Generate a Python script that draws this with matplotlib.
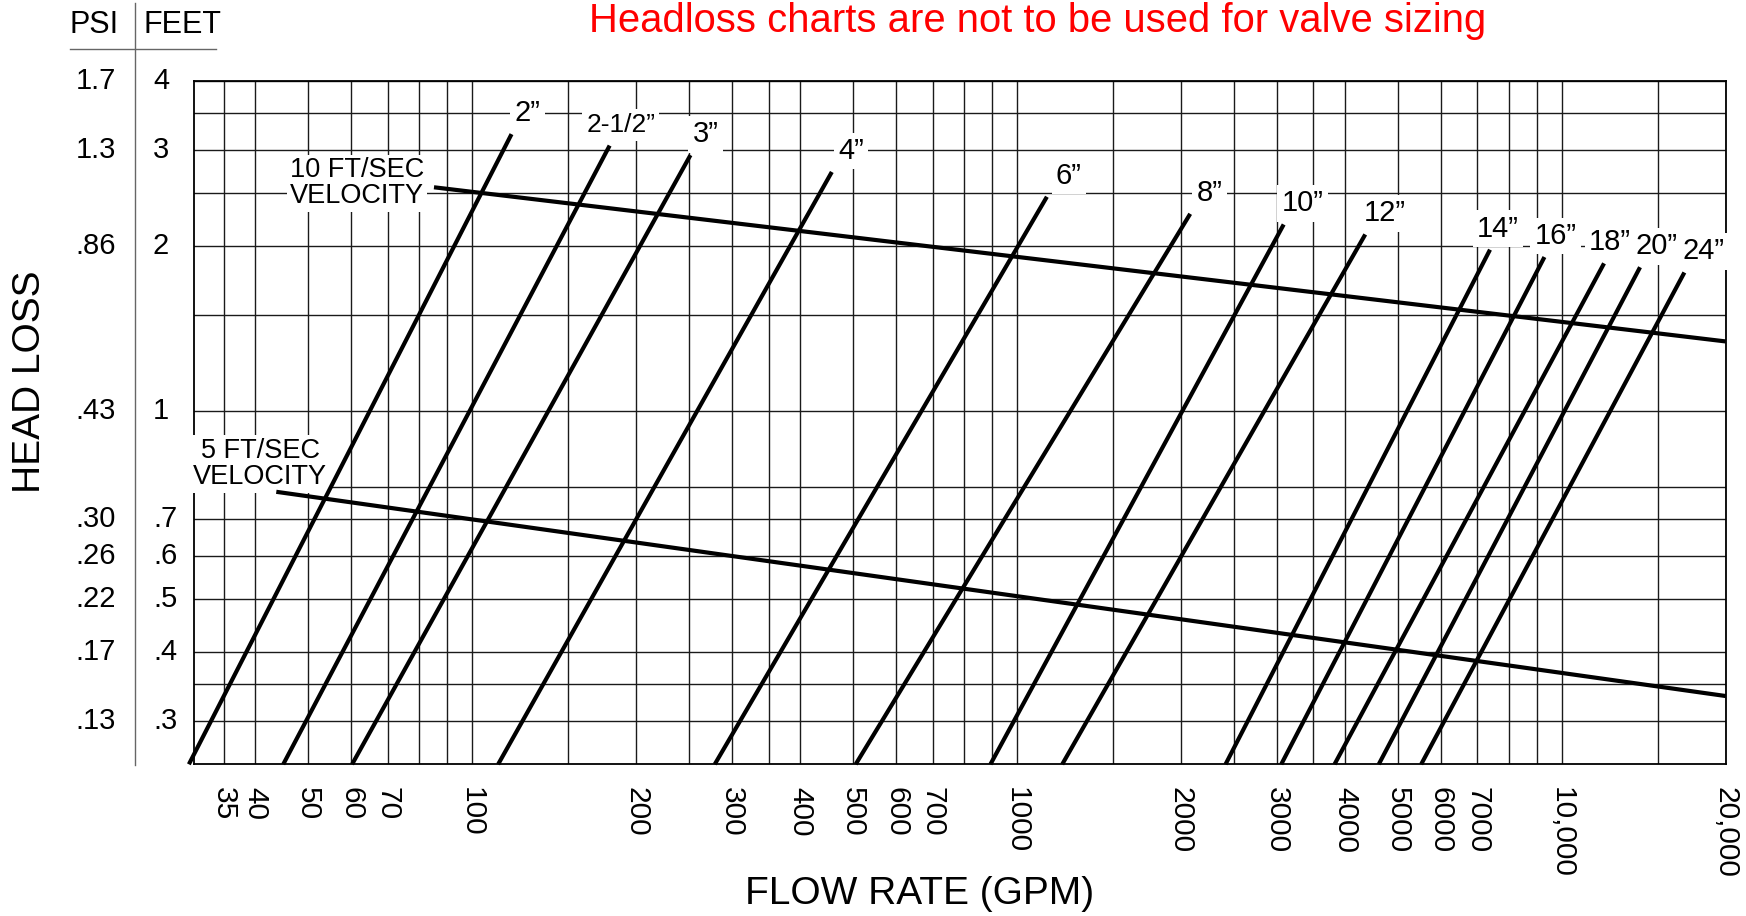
import numpy as np
import matplotlib
matplotlib.use("Agg")
import matplotlib.pyplot as plt
from matplotlib import transforms
from matplotlib.lines import Line2D
from matplotlib.ticker import NullFormatter

plt.rcParams['font.family'] = ['Liberation Sans', 'DejaVu Sans']

# pipe lines: flow (gpm) and head loss (ft) at both ends
pipe_sizes = ['2”', '2-1/2”', '3”', '4”', '6”', '8”', '10”', '12”',
              '14”', '16”', '18”', '20”', '24”']
q_low = [30.2, 45.0, 60.2, 111.6, 278.8, 505.8, 894, 1211,
         2415, 3056, 3828, 4615, 5521]
h_low = [0.25, 0.25, 0.25, 0.25, 0.25, 0.25, 0.25, 0.25,
         0.25, 0.25, 0.25, 0.25, 0.25]
q_high = [118.1, 178.8, 251.6, 457.3, 1135, 2080, 3088, 4359,
          7386, 9296, 11960, 13925, 16795]
h_high = [3.20, 3.05, 2.93, 2.73, 2.46, 2.29, 2.19, 2.10,
          1.97, 1.91, 1.86, 1.83, 1.79]

# velocity lines
vel_labels = ['10 FT/SEC\nVELOCITY', '5 FT/SEC\nVELOCITY']
vel_q = [[85.1, 20000], [43.7, 20000]]
vel_h = [[2.56, 1.34], [0.785, 0.333]]

# axis ticks
x_ticks = [35, 40, 50, 60, 70, 100, 200, 300, 400, 500, 600, 700, 1000,
           2000, 3000, 4000, 5000, 6000, 7000, 10000, 20000]
x_tick_labels = ['35', '40', '50', '60', '70', '100', '200', '300', '400',
                 '500', '600', '700', '1000', '2000', '3000', '4000', '5000',
                 '6000', '7000', '10,000', '20,000']
x_minor = [80, 90, 150, 250, 350, 800, 900, 1500, 2500, 3500, 8000, 9000, 15000]
feet_ticks = [4, 3, 2, 1, 0.7, 0.6, 0.5, 0.4, 0.3]
feet_labels = ['4', '3', '2', '1', '.7', '.6', '.5', '.4', '.3']
psi_labels = ['1.7', '1.3', '.86', '.43', '.30', '.26', '.22', '.17', '.13']
y_minor = [3.5, 2.5, 1.5, 0.8, 0.35]

W, H = 1746, 916


def fx(px):
    return px / W


def fy(py):
    return 1 - py / H


# the chart's log axis has a small break between 1 ft and 0.8 ft
GAP = 23 / 548
LO = np.log10(0.8)
K = (LO - GAP) / LO


def fwd(h):
    t = np.log10(np.clip(np.asarray(h, dtype=float), 1e-9, None))
    return np.where(t >= 0, t, np.where(t <= LO, t - GAP, t * K))


def inv(u):
    u = np.asarray(u, dtype=float)
    return np.where(u >= 0, 10.0 ** u,
                    np.where(u <= LO - GAP, 10.0 ** (u + GAP), 10.0 ** (u / K)))


fig = plt.figure(figsize=(W / 100, H / 100), dpi=100)
ax = fig.add_axes([fx(194.3), fy(764.3), fx(1725.7) - fx(194.3), fy(81) - fy(764.3)])
ax.set_xscale('log')
ax.set_yscale('function', functions=(fwd, inv))
ax.set_xlim(30.9, 20000)
ax.set_ylim(0.25, 4)

ax.set_xticks(x_ticks, labels=x_tick_labels)
ax.set_xticks(x_minor, minor=True)
ax.xaxis.set_minor_formatter(NullFormatter())
ax.set_yticks(feet_ticks)
ax.set_yticks(y_minor, minor=True)
ax.tick_params(which='both', length=0)
ax.tick_params(axis='y', which='both', labelleft=False)
ax.tick_params(axis='x', which='major', pad=16, labelsize=21.5)
for lbl in ax.get_xticklabels():
    lbl.set_rotation(-90)
    lbl.set_ha('center')
    lbl.set_va('top')

ax.set_axisbelow(True)
ax.grid(True, which='both', color='#1a1a1a', linewidth=1.0)
for s in ax.spines.values():
    s.set_linewidth(1.3)
    s.set_color('black')

# pipe size lines with labels
label_dx = [16, 11, 15, 19, 22, 19, 19, 19, 8, 11, 6, 16, 19]
for i, name in enumerate(pipe_sizes):
    ax.plot([q_low[i], q_high[i]], [h_low[i], h_high[i]], color='black',
            linewidth=3.0, solid_capstyle='butt', zorder=4, clip_on=False)
    ax.annotate(name, (q_high[i], h_high[i]), xytext=(label_dx[i], 21),
                textcoords='offset pixels', ha='center', va='center',
                fontsize=19 if name == '2-1/2”' else 21, zorder=3,
                bbox=dict(boxstyle='square,pad=0.15', fc='white', ec='none'))

# velocity lines
vel_offsets = [(-77, 4), (-16, 28)]
for i, name in enumerate(vel_labels):
    ax.plot(vel_q[i], vel_h[i], color='black', linewidth=3.0,
            solid_capstyle='butt', zorder=4)
    ax.annotate(name, (vel_q[i][0], vel_h[i][0]), xytext=vel_offsets[i],
                textcoords='offset pixels', ha='center', va='center',
                multialignment='center', fontsize=19.5, linespacing=1.0, zorder=3,
                bbox=dict(boxstyle='square,pad=0.1', fc='white', ec='none'))

# PSI / FEET columns
trans = transforms.blended_transform_factory(fig.transFigure, ax.transData)
for v, ft, psi in zip(feet_ticks, feet_labels, psi_labels):
    ax.text(fx(153), v, ft, transform=trans, ha='left', va='center', fontsize=21)
    ax.text(fx(116), v, psi, transform=trans, ha='right', va='center', fontsize=21)

fig.text(fx(70), fy(33), 'PSI', ha='left', va='baseline', fontsize=22)
fig.text(fx(143), fy(33), 'FEET', ha='left', va='baseline', fontsize=22)
fig.add_artist(Line2D([fx(134.7), fx(134.7)], [fy(3), fy(765)],
                      transform=fig.transFigure, color='#666666', linewidth=1.0))
fig.add_artist(Line2D([fx(69.7), fx(216.2)], [fy(49), fy(49)],
                      transform=fig.transFigure, color='#666666', linewidth=1.0))

fig.text(fx(30), fy(382), 'HEAD LOSS', rotation=90, ha='center', va='center',
         fontsize=28)
fig.text(fx(920), fy(894), 'FLOW RATE (GPM)', ha='center', va='center',
         fontsize=28)
fig.text(fx(1038), fy(32), 'Headloss charts are not to be used for valve sizing',
         ha='center', va='baseline', color='red', fontsize=28.8)

fig.savefig('out.png', dpi=100)
